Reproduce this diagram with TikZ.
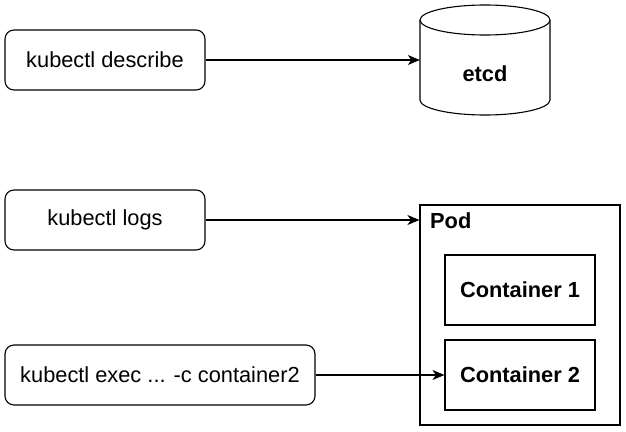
\documentclass[tikz,border=0pt]{standalone}
\usepackage{fontspec}
\setmainfont{Liberation Sans}
\usetikzlibrary{arrows.meta}
\begin{document}
\begin{tikzpicture}[x=1pt,y=-1pt,
  txt/.style={font=\fontsize{21.8}{26}\selectfont},
  btxt/.style={font=\fontsize{21.8}{26}\selectfont\bfseries},
  cmd/.style={draw,rounded corners=9pt,line width=1.1pt,minimum height=60pt,inner sep=0pt,txt},
  cont/.style={draw,line width=1.1pt,minimum width=150pt,minimum height=70pt,inner sep=0pt,btxt},
  conn/.style={line width=1.1pt,-{Stealth[length=12pt,width=10pt,inset=3.5pt]}}]
\useasboundingbox (0,0) rectangle (626,431);
% cylinder
\draw[line width=1.1pt,fill=white] (420,20) -- (420,100) arc[start angle=180,end angle=360,x radius=65pt,y radius=15pt] -- (550,20);
\draw[line width=1.1pt,fill=white] (485,20) ellipse[x radius=65pt,y radius=15pt];
\node[minimum width=130pt,minimum height=110pt,inner sep=0pt,btxt] (etcd) at (485,74) {etcd};
% commands
\node[cmd,minimum width=200pt] (describe) at (105,60) {\raisebox{-1pt}{kubectl describe}};
\node[cmd,minimum width=200pt] (logs) at (105,220) {\raisebox{-1pt}{kubectl logs}};
\node[cmd,minimum width=310pt] (exec) at (160,375) {\raisebox{-1pt}{kubectl exec ... -c container2}};
% pod
\node[draw,line width=1.1pt,minimum width=200pt,minimum height=220pt,inner sep=0pt] (pod) at (520,315) {};
\node[anchor=west,inner sep=0pt,btxt] (podlabel) at (430,221) {Pod};
\node[cont] (c1) at (520,290) {\raisebox{-1pt}{Container 1}};
\node[cont] (c2) at (520,375) {\raisebox{-1pt}{Container 2}};
\coordinate (podin) at (pod.west |- logs.east);
\coordinate (etcdin) at (etcd.west |- describe.east);
% connectors
\draw[conn] (describe.east) -- (etcdin);
\draw[conn] (logs.east) -- (podin);
\draw[conn] (exec.east) -- (c2.west);
\end{tikzpicture}
\end{document}
